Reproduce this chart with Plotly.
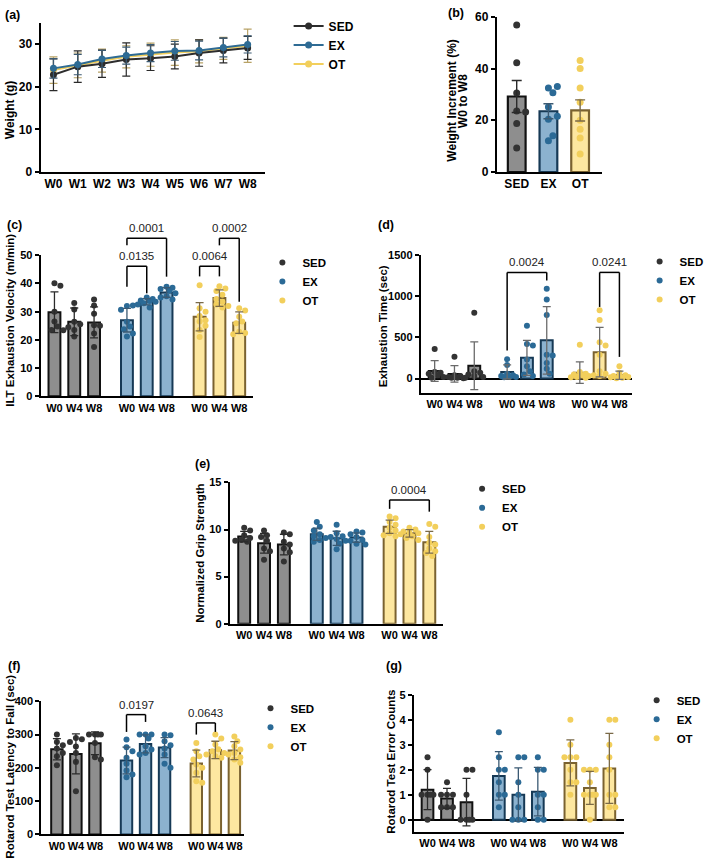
import plotly.graph_objects as go

W, H = 709, 867
FONT = "Liberation Sans, Arial, sans-serif"

GROUPS = ["SED", "EX", "OT"]
DOT = {"SED": "#333333", "EX": "#2b6a96", "OT": "#f2cf5c"}
FILL = {"SED": "#8e8e8e", "EX": "#8cb2cf", "OT": "#fde7a0"}
EDGE = {"SED": "#111111", "EX": "#163955", "OT": "#7a6230"}
ERR = {"SED": "#2a2a2a", "EX": "#3b5a73", "OT": "#7a6a48"}
LINE = {"SED": "#2d2d2d", "EX": "#2e6b94", "OT": "#f2cf5c"}

# ---------------- data ----------------
weeks = ["W0", "W1", "W2", "W3", "W4", "W5", "W6", "W7", "W8"]
a_mean = {
    "SED": [22.8, 24.7, 25.4, 26.4, 26.7, 27.1, 27.9, 28.5, 29.1],
    "EX": [24.3, 25.2, 26.5, 27.3, 27.9, 28.4, 28.5, 29.2, 29.9],
    "OT": [23.9, 25.0, 26.1, 27.0, 27.5, 28.0, 28.3, 29.0, 29.6],
}
a_sd = {
    "SED": [3.7, 3.7, 3.2, 3.9, 2.9, 2.9, 3.1, 2.9, 2.7],
    "EX": [2.3, 2.4, 2.0, 2.0, 2.0, 2.2, 2.2, 2.2, 2.0],
    "OT": [3.1, 2.9, 2.7, 2.6, 2.7, 3.0, 2.7, 2.6, 3.9],
}

b_cats = ["SED", "EX", "OT"]
b_mean = [29.2, 23.5, 23.8]
b_sem = [6.2, 2.9, 4.1]
b_pts = {
    "SED": [56.8, 42.2, 30.5, 23.6, 23.2, 18.8, 9.3],
    "EX": [32.5, 33.1, 30.6, 25.1, 20.4, 21.6, 12.1, 14.0],
    "OT": [43.1, 40.0, 32.5, 27.0, 20.0, 16.5, 13.1, 7.0],
}

timepoints = ["W0", "W4", "W8"]

c_mean = {"SED": [29.8, 26.4, 26.2], "EX": [27.0, 33.5, 36.8], "OT": [28.2, 34.8, 26.1]}
c_sd = {"SED": [7.2, 4.9, 5.5], "EX": [4.2, 1.1, 1.7], "OT": [5.0, 2.9, 3.8]}
c_pts = {
    "SED": [[40.1, 39.2, 26.5, 24.7, 23.5, 23.4, 30.0],
            [33.1, 30.8, 26.4, 25.5, 23.5, 21.2, 24.5],
            [34.3, 32.2, 29.3, 25.2, 22.3, 17.5, 25.0]],
    "EX": [[32.0, 32.2, 30.7, 26.4, 24.7, 23.8, 21.2, 22.3],
           [35.0, 34.5, 34.0, 33.8, 33.5, 33.0, 32.5, 31.5],
           [38.8, 38.5, 38.0, 37.5, 36.5, 35.5, 35.0, 34.3]],
    "OT": [[39.4, 31.2, 30.0, 28.5, 27.0, 26.5, 25.0, 23.5, 21.0],
           [39.0, 38.2, 37.3, 36.0, 34.5, 33.5, 32.5, 32.0, 31.5],
           [31.2, 30.4, 28.2, 26.5, 25.9, 22.9, 22.4, 22.0]],
}
c_brackets = [("0.0135", 3, 4, 46.1, 38.8, 36.5), ("0.0001", 3, 5, 56.0, 53.5, 42.4),
              ("0.0064", 6, 7, 46.1, 42.5, 42.5), ("0.0002", 7, 8, 56.0, 53.5, 33.5)]

d_mean = {"SED": [92, 56, 155], "EX": [80, 252, 464], "OT": [72, 320, 40]}
d_sd = {"SED": [125, 100, 290], "EX": [85, 212, 410], "OT": [130, 300, 50]}
d_pts = {
    "SED": [[360, 80, 70, 60, 40, 20, 10], [265, 40, 30, 20, 10, 5, 10], [800, 90, 70, 50, 30, 20, 10]],
    "EX": [[235, 165, 60, 40, 30, 25, 20, 15], [640, 420, 400, 230, 150, 90, 50, 30],
           [1090, 960, 770, 290, 280, 190, 120, 60]],
    "OT": [[410, 80, 60, 50, 40, 30, 20, 15, 10], [830, 710, 440, 400, 290, 90, 60, 40, 30],
           [150, 70, 40, 30, 25, 20, 15, 10, 5]],
}
d_brackets = [("0.0024", 3, 5, 1288, 340, 1190), ("0.0241", 7, 8, 1288, 869, 263)]

e_mean = {"SED": [9.25, 8.55, 8.4], "EX": [9.5, 9.07, 9.15], "OT": [10.3, 9.6, 8.65]}
e_sd = {"SED": [0.55, 1.05, 1.1], "EX": [0.65, 0.75, 0.5], "OT": [0.7, 0.4, 1.15]}
e_pts = {
    "SED": [[10.2, 9.9, 9.4, 9.1, 8.9, 8.8, 8.7], [9.9, 9.4, 9.2, 8.8, 8.0, 7.7, 6.8],
            [9.7, 9.5, 8.7, 8.4, 8.0, 7.6, 6.6]],
    "EX": [[10.8, 10.3, 9.9, 9.5, 9.3, 9.1, 8.9, 8.7], [10.5, 9.6, 9.3, 9.2, 9.0, 8.8, 8.5, 7.9],
           [9.8, 9.7, 9.5, 9.2, 8.9, 8.8, 8.5, 8.4]],
    "OT": [[11.4, 11.2, 10.8, 10.5, 10.2, 9.9, 9.6, 9.4, 9.3], [10.2, 10.0, 9.8, 9.7, 9.6, 9.5, 9.3, 9.1, 8.9],
           [10.6, 10.3, 9.2, 8.6, 8.4, 8.0, 7.7, 7.5, 7.2]],
}
e_brackets = [("0.0004", 6, 8, 13.15, 12.2, 11.9)]

f_mean = {"SED": [256, 242, 274], "EX": [222, 272, 261], "OT": [213, 254, 252]}
f_sd = {"SED": [32, 60, 34], "EX": [40, 27, 30], "OT": [40, 26, 27]}
f_pts = {
    "SED": [[300, 278, 268, 258, 245, 235, 208], [290, 286, 278, 264, 245, 218, 130],
            [300, 300, 300, 300, 275, 232, 225]],
    "EX": [[285, 262, 250, 230, 212, 192, 180, 172], [300, 300, 300, 288, 265, 255, 245, 240],
           [300, 298, 280, 268, 258, 240, 212, 200]],
    "OT": [[275, 250, 235, 225, 210, 200, 185, 160, 155], [300, 288, 270, 256, 250, 245, 240, 235, 230],
           [294, 280, 265, 255, 245, 240, 232, 225, 215]],
}
f_brackets = [("0.0197", 3, 4, 360, 308, 338), ("0.0643", 6, 7, 335, 300, 308)]

g_mean = {"SED": [1.2, 0.85, 0.7], "EX": [1.75, 1.0, 1.12], "OT": [2.27, 1.27, 2.05]}
g_sd = {"SED": [0.8, 0.4, 0.95], "EX": [0.97, 1.07, 0.97], "OT": [0.92, 0.66, 1.4]}
g_pts = {
    "SED": [[2.5, 2.0, 1.0, 1.0, 1.0, 1.0, 0.0], [1.5, 1.0, 1.0, 1.0, 0.5, 0.5, 0.5],
            [2.0, 2.0, 1.0, 0.0, 0.0, 0.0, 0.0]],
    "EX": [[3.5, 2.5, 2.0, 2.0, 1.5, 1.0, 1.0, 0.5], [2.5, 2.5, 1.5, 1.0, 0.5, 0.0, 0.0, 0.0],
           [2.5, 2.0, 2.0, 1.0, 1.0, 0.5, 0.0, 0.0]],
    "OT": [[4.0, 3.0, 2.5, 2.5, 2.5, 2.0, 1.5, 1.5, 1.0], [2.0, 2.0, 2.0, 1.5, 1.0, 1.0, 1.0, 1.0, 0.0],
           [4.0, 4.0, 3.0, 2.5, 2.0, 1.0, 1.0, 0.5, 0.5]],
}

# ---------------- geometry (pixels) ----------------
GEO = {
    1: dict(x=(41, 268), y=(16, 167.7), xr=(-0.53, 8.73), yr=(0, 35), yt=[0, 10, 20, 30]),
    2: dict(x=(501.7, 608), y=(10, 167.7), xr=(-0.63, 2.69), yr=(0, 60), yt=[0, 20, 40, 60]),
    3: dict(x=(41, 256), y=(252.3, 395.7), xr=(-0.7, 10.05), yr=(0, 50), yt=[0, 10, 20, 30, 40, 50]),
    4: dict(x=(425, 638), y=(252, 392), xr=(-0.7, 9.95), yr=(-171, 1500), yt=[0, 500, 1000, 1500]),
    5: dict(x=(232, 447), y=(483.3, 626.8), xr=(-0.73, 10.0), yr=(0, 15), yt=[0, 5, 10, 15]),
    6: dict(x=(41.7, 246.7), y=(705.7, 841), xr=(-0.82, 9.85), yr=(0, 400), yt=[0, 100, 200, 300, 400]),
    7: dict(x=(418, 630), y=(699, 838.7), xr=(-0.7, 10.07), yr=(-0.5, 5), yt=[0, 1, 2, 3, 4, 5]),
}
GROUP_OFF = [0.0, 3.66, 7.33]
POS = [o + k for o in GROUP_OFF for k in range(3)]


def ppu(n):
    g = GEO[n]
    return ((g["x"][1] - g["x"][0]) / (g["xr"][1] - g["xr"][0]),
            (g["y"][1] - g["y"][0]) / (g["yr"][1] - g["yr"][0]))


def to_paper(n, xv, yv):
    g = GEO[n]
    fx = (xv - g["xr"][0]) / (g["xr"][1] - g["xr"][0])
    fy = (yv - g["yr"][0]) / (g["yr"][1] - g["yr"][0])
    xp = g["x"][0] + fx * (g["x"][1] - g["x"][0])
    yp = g["y"][1] - fy * (g["y"][1] - g["y"][0])
    return xp / W, 1 - yp / H


def swarm(vals, px, py, d=5.5, step=3.0, kmax=3):
    placed, out = [], []
    cands = [0] + [s * k for k in range(1, kmax + 1) for s in (1, -1)]
    for v in vals:
        y = v * py
        chosen, bestx, bestd = None, 0, -1
        for k in cands:
            x = k * step
            md = min([((x - a) ** 2 + (y - b) ** 2) ** 0.5 for a, b in placed], default=1e9)
            if md >= d:
                chosen = x
                break
            if md > bestd:
                bestd, bestx = md, x
        if chosen is None:
            chosen = bestx
        placed.append((chosen, y))
        out.append(chosen / px)
    return out


fig = go.Figure()
bold = dict(family=FONT, color="black", weight="bold")

# ---------- panel a ----------
for rank, g in zip([3, 1, 2], ["OT", "SED", "EX"]):
    fig.add_trace(go.Scatter(
        x=list(range(len(weeks))), y=a_mean[g], name=g, mode="lines+markers",
        line=dict(color=LINE[g], width=2), marker=dict(size=7, color=LINE[g]),
        error_y=dict(type="data", array=a_sd[g], color=ERR[g] if g != "OT" else "#b8a266",
                     thickness=1.2, width=4),
        legend="legend", legendrank=rank, xaxis="x", yaxis="y", hoverinfo="skip"))

# ---------- panel b ----------
pxb, pyb = ppu(2)
for i, g in enumerate(GROUPS):
    fig.add_trace(go.Bar(x=[i], y=[b_mean[i]], width=0.56,
                         marker=dict(color=FILL[g], line=dict(color=EDGE[g], width=2.2)),
                         showlegend=False, xaxis="x2", yaxis="y2", hoverinfo="skip"))
for i, g in enumerate(GROUPS):
    offs = swarm(b_pts[g], pxb, pyb, d=6.5, step=4.5, kmax=2)
    fig.add_trace(go.Scatter(x=[i + o for o in offs], y=b_pts[g], mode="markers",
                             marker=dict(size=7, color=DOT[g]), showlegend=False,
                             xaxis="x2", yaxis="y2", hoverinfo="skip"))
for i, g in enumerate(GROUPS):
    fig.add_trace(go.Scatter(x=[i], y=[b_mean[i]], mode="markers", marker=dict(size=1, opacity=0),
                             error_y=dict(type="data", array=[b_sem[i]], color=ERR[g], thickness=1.4, width=5),
                             showlegend=False, xaxis="x2", yaxis="y2", hoverinfo="skip"))


def bar_panel(n, mean, sd, pts, legend_name, err=None):
    px, py = ppu(n)
    xa, ya = f"x{n}", f"y{n}"
    for gi, g in enumerate(GROUPS):
        xs = POS[gi * 3:gi * 3 + 3]
        fig.add_trace(go.Bar(x=xs, y=mean[g], width=0.6,
                             marker=dict(color=FILL[g], line=dict(color=EDGE[g], width=2)),
                             showlegend=False, xaxis=xa, yaxis=ya, hoverinfo="skip"))
    for gi, g in enumerate(GROUPS):
        xs = POS[gi * 3:gi * 3 + 3]
        dx, dy = [], []
        for k in range(3):
            offs = swarm(pts[g][k], px, py)
            dx += [xs[k] + o for o in offs]
            dy += pts[g][k]
        fig.add_trace(go.Scatter(x=dx, y=dy, mode="markers", name=g,
                                 marker=dict(size=6, color=DOT[g]), legend=legend_name,
                                 showlegend=True, xaxis=xa, yaxis=ya, hoverinfo="skip"))
    for gi, g in enumerate(GROUPS):
        xs = POS[gi * 3:gi * 3 + 3]
        fig.add_trace(go.Scatter(x=xs, y=mean[g], mode="markers", marker=dict(size=1, opacity=0),
                                 error_y=dict(type="data", array=sd[g], color=err or ERR[g],
                                              thickness=1.3, width=4),
                                 showlegend=False, xaxis=xa, yaxis=ya, hoverinfo="skip"))


def brackets(n, items):
    ln = dict(color="black", width=1.5)
    for label, i, j, top, le, re in items:
        xi, xj = POS[i], POS[j]
        x0, yl = to_paper(n, xi, le)
        x1, yr_ = to_paper(n, xj, re)
        _, yt = to_paper(n, xi, top)
        for (ax, ay, bx, by) in [(x0, yl, x0, yt), (x0, yt, x1, yt), (x1, yt, x1, yr_)]:
            fig.add_shape(type="line", x0=ax, y0=ay, x1=bx, y1=by, xref="paper", yref="paper", line=ln)
        fig.add_annotation(x=(x0 + x1) / 2, y=yt, xref="paper", yref="paper", text=label,
                           showarrow=False, xanchor="center", yanchor="bottom", yshift=2,
                           font=dict(family=FONT, size=11.5, color="#222222"))


bar_panel(3, c_mean, c_sd, c_pts, "legend2")
bar_panel(4, d_mean, d_sd, d_pts, "legend3", err="#6a6a6a")
bar_panel(5, e_mean, e_sd, e_pts, "legend4")
bar_panel(6, f_mean, f_sd, f_pts, "legend5")
bar_panel(7, g_mean, g_sd, g_pts, "legend6")
brackets(3, c_brackets)
brackets(4, d_brackets)
brackets(5, e_brackets)
brackets(6, f_brackets)

# ---------- axes ----------
layout = dict(width=W, height=H, margin=dict(l=0, r=0, t=0, b=0), paper_bgcolor="white",
              plot_bgcolor="rgba(0,0,0,0)", barmode="overlay", font=dict(family=FONT, color="black"))
for n, g in GEO.items():
    sfx = "" if n == 1 else str(n)
    if n == 1:
        tv, tt, tfs = list(range(len(weeks))), weeks, 12
    elif n == 2:
        tv, tt, tfs = [0, 1, 2], b_cats, 12
    else:
        tv, tt, tfs = POS, timepoints * 3, 11
    layout["xaxis" + sfx] = dict(
        domain=[g["x"][0] / W, g["x"][1] / W], range=list(g["xr"]), tickvals=tv, ticktext=tt,
        ticks="", showline=True, linewidth=2, linecolor="black", showgrid=False, zeroline=False,
        tickfont=dict(size=tfs, **bold), anchor="y" + sfx, fixedrange=True)
    layout["yaxis" + sfx] = dict(
        domain=[1 - g["y"][1] / H, 1 - g["y"][0] / H], range=list(g["yr"]), tickvals=g["yt"],
        ticks="outside", ticklen=4, tickwidth=2, tickcolor="black", showline=True, linewidth=2,
        linecolor="black", showgrid=False, zeroline=g["yr"][0] < 0, zerolinecolor="black",
        zerolinewidth=2, tickfont=dict(size=12 if n <= 2 else 11, **bold),
        anchor="x" + sfx, fixedrange=True)

LEG = {"legend": (311.5, 25.7, 12, 21), "legend2": (285, 262, 11.5, 17), "legend3": (666, 261, 11.5, 17),
       "legend4": (486.7, 492, 11.5, 17), "legend5": (273, 715, 11.5, 17), "legend6": (663, 707, 11.5, 17)}
for k, (cx, cy, fs, off) in LEG.items():
    layout[k] = dict(x=(cx - 20) / W, y=1 - (cy - off) / H, xanchor="left", yanchor="top",
                     bgcolor="rgba(0,0,0,0)", borderwidth=0, itemwidth=30, tracegroupgap=0,
                     font=dict(size=fs, **bold))
fig.update_layout(**layout)

TITLES = [("Weight (g)", 10, 105, 12), ("Weight Increment (%)", 456.7, 95, 12),
          ("W0 to W8", 468.3, 96, 12), ("ILT Exhaustion Velocity (m/min)", 10, 318, 11.5),
          ("Exhaustion Time (sec)", 386.7, 324.6, 11.5), ("Normalized Grip Strength", 201.7, 555, 11.5),
          ("Rotarod Test Latency to Fall (sec)", 10.5, 771.7, 11.5),
          ("Rotarod Test Error Counts", 395, 767, 11.5)]
for txt, cx, cy, fs in TITLES:
    fig.add_annotation(text=txt, x=cx / W, y=1 - cy / H, xref="paper", yref="paper", textangle=-90,
                       xanchor="center", yanchor="middle", showarrow=False, font=dict(size=fs, **bold))

LABELS = [("(a)", 3, 7.7), ("(b)", 450, 6.5), ("(c)", 5, 222), ("(d)", 380, 222),
          ("(e)", 195, 465), ("(f)", 6, 670), ("(g)", 388, 670)]
for txt, lx, cy in LABELS:
    fig.add_annotation(text=txt, x=lx / W, y=1 - cy / H, xref="paper", yref="paper",
                       xanchor="left", yanchor="middle", showarrow=False, font=dict(size=12.5, **bold))

fig.write_html("out.html")
